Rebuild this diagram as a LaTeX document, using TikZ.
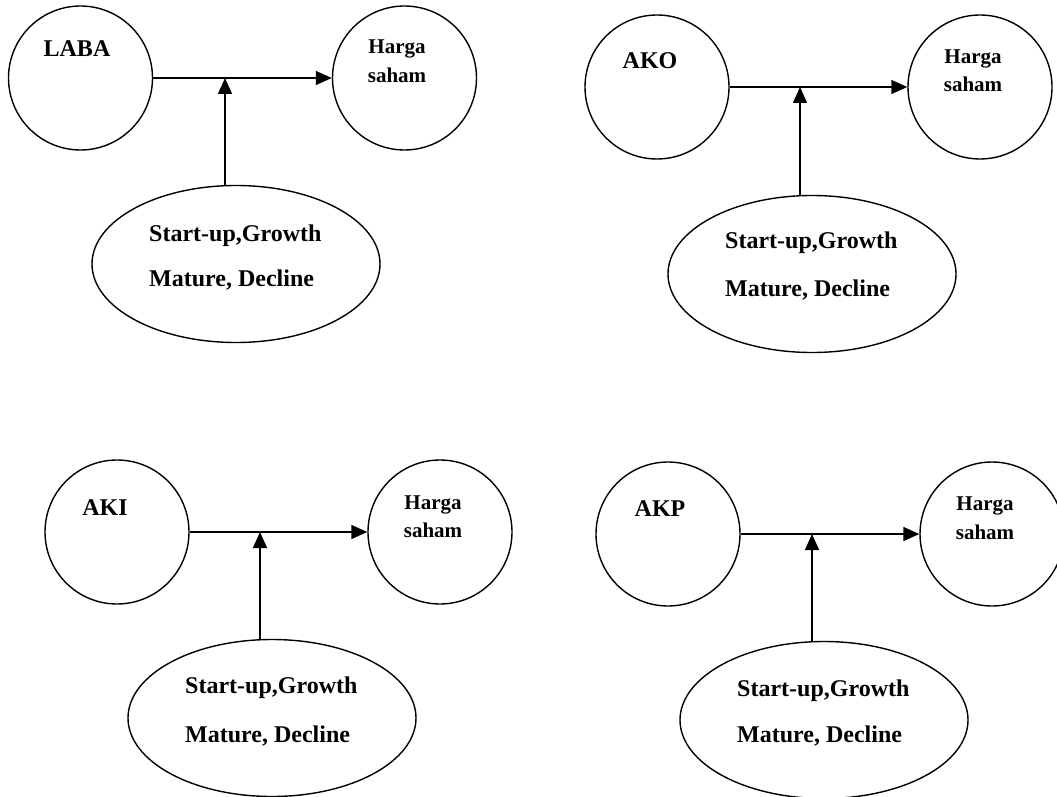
\documentclass[tikz,border=0pt]{standalone}
\usepackage{fontspec}
\setmainfont{Liberation Serif}
\usetikzlibrary{shapes.geometric,arrows.meta}
\begin{document}
\begin{tikzpicture}[x=1pt,y=-1pt,
 circ/.style={circle,draw,line width=1.4pt,minimum size=144pt,inner sep=0pt},
 lifeell/.style={ellipse,draw,line width=1.4pt,minimum width=288pt,minimum height=157pt,inner sep=0pt},
 arr/.style={line width=1.4pt,-{Triangle[length=16pt,width=14pt]}},
 lbl/.style={font=\bfseries\fontsize{24}{24}\selectfont,anchor=base,inner sep=0pt},
 hs/.style={font=\bfseries\fontsize{21}{21}\selectfont,anchor=base,inner sep=0pt},
 lt/.style={font=\bfseries\fontsize{24}{24}\selectfont,anchor=base west,inner sep=0pt},
]
\useasboundingbox (0,0) rectangle (1057,797);
\clip (0,0) rectangle (1057,797);

% Panel 1
\node[circ] (laba) at (80.5,78) {};
\node[lbl] (labaT) at (77,57) {LABA};
\node[circ] (hs1) at (404.5,78) {};
\node[hs] (hs1a) at (397,54) {Harga};
\node[hs] (hs1b) at (397,83) {saham};
\node[lifeell] (e1) at (236,264) {};
\node[lt] (e1a) at (149,241) {Start-up,Growth};
\node[lt] (e1b) at (149,286) {Mature, Decline};
\coordinate (m1) at (225,78);
\draw[arr] (laba.east) -- (hs1.west);
\draw[arr] (e1.north -| m1) -- (m1);

% Panel 2
\node[circ] (ako) at (657,87) {};
\node[lbl] (akoT) at (650,69) {AKO};
\node[circ] (hs2) at (980,87) {};
\node[hs] (hs2a) at (973,64) {Harga};
\node[hs] (hs2b) at (973,92) {saham};
\node[lifeell] (e2) at (812,274) {};
\node[lt] (e2a) at (725,248) {Start-up,Growth};
\node[lt] (e2b) at (725,296) {Mature, Decline};
\coordinate (m2) at (800,87);
\draw[arr] (ako.east) -- (hs2.west);
\draw[arr] (e2.north -| m2) -- (m2);

% Panel 3
\node[circ] (aki) at (117,532) {};
\node[lbl] (akiT) at (105,515) {AKI};
\node[circ] (hs3) at (440,532) {};
\node[hs] (hs3a) at (433,509) {Harga};
\node[hs] (hs3b) at (433,537) {saham};
\node[lifeell] (e3) at (272,718) {};
\node[lt] (e3a) at (185,693) {Start-up,Growth};
\node[lt] (e3b) at (185,742) {Mature, Decline};
\coordinate (m3) at (260,532);
\draw[arr] (aki.east) -- (hs3.west);
\draw[arr] (e3.north -| m3) -- (m3);

% Panel 4
\node[circ] (akp) at (668,534) {};
\node[lbl] (akpT) at (660,516) {AKP};
\node[circ] (hs4) at (992,534) {};
\node[hs] (hs4a) at (985,510) {Harga};
\node[hs] (hs4b) at (985,539) {saham};
\node[lifeell] (e4) at (824,720) {};
\node[lt] (e4a) at (737,696) {Start-up,Growth};
\node[lt] (e4b) at (737,742) {Mature, Decline};
\coordinate (m4) at (812,534);
\draw[arr] (akp.east) -- (hs4.west);
\draw[arr] (e4.north -| m4) -- (m4);
\end{tikzpicture}
\end{document}
